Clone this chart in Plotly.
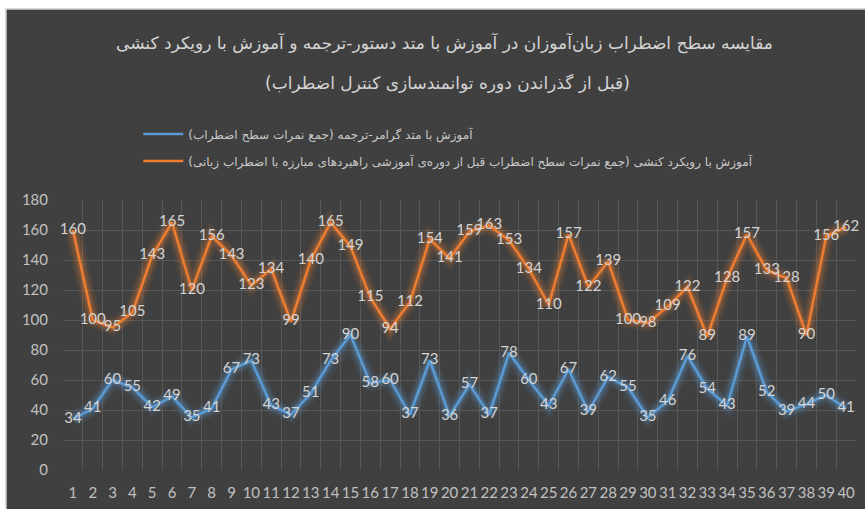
import plotly.graph_objects as go

categories = list(range(1, 41))
grammar_translation = [34, 41, 60, 55, 42, 49, 35, 41, 67, 73, 43, 37, 51, 73, 90, 58, 60, 37, 73, 36,
                       57, 37, 78, 60, 43, 67, 39, 62, 55, 35, 46, 76, 54, 43, 89, 52, 39, 44, 50, 41]
action_oriented = [160, 100, 95, 105, 143, 165, 120, 156, 143, 123, 134, 99, 140, 165, 149, 115, 94, 112, 154, 141,
                   159, 163, 153, 134, 110, 157, 122, 139, 100, 98, 109, 122, 89, 128, 157, 133, 128, 90, 156, 162]
y_ticks = [0, 20, 40, 60, 80, 100, 120, 140, 160, 180]

title_line1 = "مقایسه سطح اضطراب زبان‌آموزان در آموزش با متد دستور-ترجمه و آموزش با رویکرد کنشی"
title_line2 = "(قبل از گذراندن دوره توانمندسازی کنترل اضطراب)"
name_blue = "\u200fآموزش با متد گرامر-ترجمه (جمع نمرات سطح اضطراب)\u200f"
name_orange = "\u200fآموزش با رویکرد کنشی (جمع نمرات سطح اضطراب قبل از دوره‌ی آموزشی راهبردهای مبارزه با اضطراب زبانی)\u200f"

BLUE = "#5B9BD5"
ORANGE = "#ED7D31"
BG = "#404040"
TXT = "#d4d4d4"

fig = go.Figure()

# glow layers
for series, col in [(grammar_translation, BLUE), (action_oriented, ORANGE)]:
    for w, op in [(16, 0.08), (11, 0.13), (6.5, 0.22)]:
        fig.add_trace(go.Scatter(x=categories, y=series, mode="lines",
                                 line=dict(color=col, width=w), opacity=op,
                                 showlegend=False, hoverinfo="skip"))

fig.add_trace(go.Scatter(x=categories, y=grammar_translation, mode="lines", name=name_blue,
                         line=dict(color=BLUE, width=2.5), legend="legend"))
fig.add_trace(go.Scatter(x=categories, y=action_oriented, mode="lines", name=name_orange,
                         line=dict(color=ORANGE, width=2.5), legend="legend2"))

for series in [grammar_translation, action_oriented]:
    fig.add_trace(go.Scatter(x=categories, y=series, mode="text", text=[str(v) for v in series],
                             textposition="middle center", cliponaxis=False,
                             textfont=dict(family="Lato", size=15, color=TXT),
                             showlegend=False, hoverinfo="skip"))

# chart-area frame (dark panel with light border at top/left)
fig.add_shape(type="rect", xref="paper", yref="paper", x0=-0.0719, x1=1.2, y0=-0.5, y1=1.7074,
              fillcolor=BG, line=dict(color="#cfcfcf", width=1.5), layer="below")

fig.add_annotation(text=title_line1, xref="paper", yref="paper", x=0.481, y=1.5815, showarrow=False,
                   font=dict(family="DejaVu Sans", size=17, color=TXT), xanchor="center", yanchor="middle")
fig.add_annotation(text=title_line2, xref="paper", yref="paper", x=0.485, y=1.4333, showarrow=False,
                   font=dict(family="DejaVu Sans", size=17, color=TXT), xanchor="center", yanchor="middle")

legend_common = dict(bgcolor="rgba(0,0,0,0)", font=dict(family="DejaVu Sans", size=12, color="#c8c8c8"),
                     xanchor="left", yanchor="middle", itemwidth=40)

fig.update_layout(
    width=865, height=509,
    margin=dict(l=63, r=9, t=200, b=39),
    paper_bgcolor="white", plot_bgcolor=BG,
    showlegend=True,
    legend=dict(x=0.095, y=1.244, **legend_common),
    legend2=dict(x=0.095, y=1.144, **legend_common),
    xaxis=dict(range=[0.5, 40.5], tickmode="array", tickvals=categories,
               ticktext=[str(c) for c in categories], tickangle=0,
               showgrid=False, zeroline=False, showline=False,
               tickfont=dict(family="Lato", size=15, color="#c0c0c0"), ticklabelstandoff=12,
               minor=dict(tick0=0.5, dtick=1, showgrid=True, gridcolor="#575757", gridwidth=1)),
    yaxis=dict(range=[0, 180], tickvals=y_ticks, showgrid=True, gridcolor="#575757", gridwidth=1,
               zeroline=False, showline=False, ticklabelstandoff=14,
               tickfont=dict(family="Lato", size=15, color="#c0c0c0")),
)

fig.write_html("out.html")
